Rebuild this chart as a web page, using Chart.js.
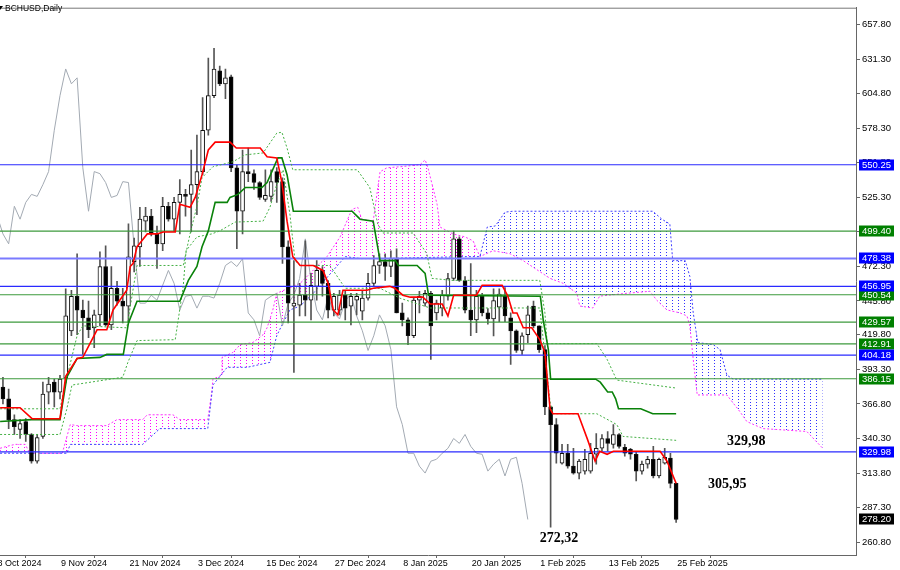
<!DOCTYPE html>
<html><head><meta charset="utf-8">
<script src="https://cdn.jsdelivr.net/npm/chart.js@4/dist/chart.umd.min.js"></script>
<style>html,body{margin:0;padding:0;background:#fff;}#wrap{width:900px;height:570px;}</style>
</head><body><div id="wrap"><canvas id="c" width="900" height="570"></canvas></div>
<script>
// ---------------- DATA ----------------
const symbolTitle = 'BCHUSD,Daily';
const xOrigin = '2024-10-28';
const firstBarDate = '2024-10-30';

const opens = [379.8,370.7,354.8,347.2,353.2,343.4,322.9,341.9,375.9,383.5,
375.9,386.5,422.9,449.4,438.8,432.8,425.2,435.1,472.2,427.5,
455.5,445.6,441.8,476.0,487.3,507.0,510.8,497.2,489.6,518.4,
508.5,521.4,527.5,527.5,535.0,545.0,576.7,603.2,622.2,612.3,
617.6,547.9,514.6,545.0,543.4,536.6,523.7,526.0,545.0,537.3,
487.3,441.8,442.6,450.2,446.4,457.0,469.2,459.3,438.8,438.8,
450.2,441.8,446.4,438.0,448.0,459.3,473.0,476.0,472.2,478.2,
436.6,431.3,419.1,446.4,444.1,451.7,436.6,440.3,449.4,463.0,
493.4,461.5,438.8,431.3,449.4,436.6,432.0,441.0,449.4,432.8,
422.9,407.8,419.9,441.8,426.7,408.5,364.6,351.0,321.4,329.0,
319.1,313.8,315.3,315.3,328.2,332.8,340.3,335.8,343.4,333.5,
332.0,328.2,315.3,320.6,324.4,311.6,321.4,325.2,305.95];
const highs = [387.3,378.2,358.5,354.8,355.5,344.1,343.4,383.5,387.3,385.8,
388.8,455.0,453.9,482.0,446.4,445.6,438.8,483.5,488.0,472.2,
460.8,455.5,505.0,494.0,517.6,517.6,516.0,503.2,525.2,521.4,
525.2,538.8,531.3,561.5,573.0,601.7,632.0,639.6,626.0,623.7,
619.1,550.0,561.5,563.0,546.4,537.3,546.4,546.4,548.0,540.3,
491.9,476.7,459.3,491.9,467.0,476.7,472.2,461.5,451.7,453.9,
453.9,451.7,451.7,453.9,467.0,480.5,482.0,482.0,484.3,485.8,
444.1,432.8,447.9,453.1,453.9,453.1,446.4,453.9,467.0,499.4,
494.9,464.5,474.5,453.9,451.7,440.0,455.0,455.0,456.0,436.6,
423.7,421.4,441.8,445.6,426.7,411.6,364.6,355.5,335.8,335.8,
332.8,324.4,332.0,336.6,344.1,343.4,345.6,350.9,344.1,335.8,
332.8,330.5,322.9,326.7,334.3,325.2,332.8,329.0,305.95];
const lows = [366.9,347.9,343.4,340.3,338.1,321.4,321.4,340.3,366.9,364.6,
370.7,383.0,419.1,420.0,404.8,417.6,410.0,426.7,426.7,423.7,
442.6,429.0,429.0,468.0,472.2,498.7,495.7,470.7,484.3,507.0,
499.4,497.2,510.8,498.7,512.0,542.6,573.0,601.7,610.8,601.0,
545.0,485.8,497.2,537.3,531.3,523.7,522.2,522.2,521.4,474.5,
429.0,391.0,434.3,434.3,431.3,446.4,449.4,432.8,434.3,435.0,
431.3,427.5,435.0,431.3,446.4,457.0,467.0,461.5,464.5,436.6,
426.7,412.3,417.6,436.6,441.8,401.0,431.3,434.3,446.4,461.5,
460.8,436.6,419.1,421.4,434.3,428.0,419.0,430.0,430.0,397.2,
406.3,404.8,413.8,425.2,406.3,358.5,272.3,321.4,320.6,317.6,
313.0,309.3,313.0,313.8,320.6,330.5,330.5,332.8,332.8,326.7,
324.4,307.8,313.0,317.6,310.0,310.0,320.6,302.5,275.9];
const closes = [370.7,354.8,349.4,351.7,343.4,322.9,341.1,374.4,382.0,375.9,
385.8,434.3,449.4,438.8,432.8,423.7,435.1,472.2,427.5,455.5,
445.6,441.8,479.7,488.0,508.5,510.8,497.2,489.6,518.4,508.5,
521.4,527.5,526.0,535.0,545.0,576.7,603.2,623.7,612.3,616.9,
547.9,514.6,545.0,543.4,536.6,525.2,526.7,537.3,536.6,487.3,
444.1,444.1,450.2,446.4,457.8,469.2,459.3,438.8,449.4,450.2,
440.3,449.4,449.4,448.0,459.3,473.0,476.0,472.2,478.2,436.6,
431.3,419.1,446.4,449.4,451.7,426.7,444.1,450.2,463.0,493.4,
461.5,438.8,431.3,449.4,436.6,432.0,446.0,451.0,434.3,422.9,
407.8,419.1,435.1,426.7,408.5,364.6,351.0,329.0,329.0,319.1,
313.8,322.9,324.4,329.0,332.8,340.3,336.6,343.4,334.3,329.0,
328.2,315.3,320.6,324.4,311.6,324.4,325.9,305.95,278.2];

// Ichimoku lines, [day index since xOrigin, price]
const tenkan = [[1.5,363.9],[5.0,363.9],[7.1,355.5],[12.0,355.5],[13.0,388.0],[15.0,401.7],[16.0,402.5],[18.5,423.7],[20.2,423.7],[21.3,438.9],[23.7,454.0],[24.3,472.2],[24.8,474.5],[25.5,487.3],[27.3,497.2],[29.0,497.2],[30.1,498.7],[32.2,498.7],[33.0,519.9],[34.8,517.6],[35.7,525.2],[36.9,542.6],[38.0,561.6],[39.2,567.6],[41.8,567.6],[42.9,563.1],[47.1,563.1],[48.3,556.3],[50.0,555.5],[50.9,536.6],[51.8,507.0],[52.8,479.8],[54.1,473.0],[56.4,473.0],[58.1,469.2],[59.0,459.3],[59.9,438.9],[60.7,435.1],[61.6,454.0],[65.8,454.0],[66.9,455.5],[69.8,457.0],[70.7,455.5],[72.1,450.2],[73.4,448.7],[75.6,448.7],[76.9,443.4],[79.0,443.4],[80.0,434.3],[81.0,450.2],[85.0,450.2],[86.0,457.8],[89.5,457.8],[90.5,449.5],[91.4,436.6],[92.1,436.6],[93.2,425.2],[94.7,425.2],[96.1,416.1],[97.0,406.3],[97.9,363.1],[98.4,359.3],[102.8,359.3],[104.4,340.4],[105.8,322.9],[106.6,330.5],[107.9,328.2],[109.0,330.5],[117.2,330.5],[118.4,322.9],[120.0,305.9]];
const kijun = [[1.5,353.3],[7.0,354.8],[12.0,354.8],[13.2,387.3],[15.0,401.7],[19.0,402.5],[20.2,404.8],[23.1,404.8],[24.0,429.0],[25.5,445.6],[33.0,445.6],[34.5,461.6],[36.0,472.2],[36.9,487.3],[38.0,499.5],[39.2,521.4],[41.3,521.4],[41.8,525.2],[43.2,527.5],[44.5,532.8],[47.4,532.8],[48.3,536.6],[50.2,555.5],[50.9,555.5],[51.8,542.6],[52.9,514.6],[63.2,514.6],[64.6,508.5],[66.9,507.0],[68.1,476.7],[70.8,476.7],[71.3,473.0],[74.6,473.0],[76.0,466.9],[76.6,450.2],[96.2,449.4],[96.7,431.3],[97.6,408.5],[98.0,385.8],[105.9,385.8],[106.7,383.5],[108.0,376.0],[108.8,376.0],[109.4,370.7],[109.9,363.1],[113.8,363.1],[115.9,359.3],[120.0,359.3]];
const dottedUpper = [[1.5,363.1],[12.0,363.1],[13.0,383.6],[15.0,419.2],[16.0,426.7],[23.7,425.2],[25.5,473.0],[33.6,473.0],[34.8,497.2],[36.0,518.4],[36.9,540.4],[38.8,548.7],[42.3,552.5],[44.4,557.8],[47.6,559.3],[50.0,574.5],[50.9,575.2],[51.8,563.1],[52.8,546.4],[64.1,546.4],[66.3,532.8],[67.7,504.8],[68.6,497.9],[73.9,497.9],[76.3,482.0],[77.2,463.1],[80.7,461.6],[96.1,461.6],[97.0,436.6],[97.4,413.1],[106.1,413.1],[107.9,401.0],[109.6,385.1],[120.0,379.0]];
const dottedLower = [[1.5,343.4],[12.0,343.4],[13.2,363.1],[14.1,381.3],[23.0,387.3],[23.9,398.7],[25.5,415.4],[32.2,416.1],[33.6,457.0],[34.1,484.3],[36.0,494.9],[38.6,497.2],[40.0,499.5],[42.7,506.3],[47.6,507.0],[48.8,517.6],[50.0,535.1],[51.1,546.4],[52.3,512.3],[53.2,476.7],[54.1,473.0],[59.3,473.0],[62.0,455.5],[68.1,455.5],[71.6,447.9],[76.9,440.4],[96.1,440.4],[97.9,368.4],[98.4,359.3],[106.1,359.3],[109.6,351.0],[110.7,341.9],[120.0,338.9]];
const spanPink = [[1.5,332.8],[2.7,334.3],[4.1,335.8],[5.9,335.8],[6.7,329.0],[12.4,329.0],[13.8,351.0],[15.0,350.2],[20.2,350.2],[22.0,354.8],[26.5,354.8],[27.3,358.5],[31.8,358.5],[33.0,354.8],[37.9,354.8],[38.6,376.0],[38.8,385.8],[40.4,388.9],[40.4,402.5],[42.3,406.3],[43.6,412.3],[45.8,413.9],[47.6,419.9],[48.3,425.2],[49.3,438.9],[50.0,451.7],[54.1,459.3],[56.7,470.7],[58.8,479.8],[61.1,494.9],[62.8,512.3],[63.2,516.1],[64.2,517.6],[64.9,508.5],[66.9,507.0],[68.1,544.9],[69.3,547.9],[71.6,548.7],[75.1,550.2],[76.0,554.0],[76.5,547.9],[78.1,519.9],[78.6,502.5],[80.9,497.2],[83.0,494.9],[84.4,491.9],[85.6,479.8],[87.9,484.3],[90.9,482.0],[93.2,476.7],[97.9,463.1],[100.2,459.3],[102.6,451.7],[103.1,441.9],[105.4,440.4],[106.6,449.5],[111.4,451.7],[115.4,453.2],[116.6,446.4],[118.4,438.9],[120.7,436.6],[121.9,434.3],[122.4,426.7],[123.0,401.0],[123.7,373.7],[128.9,373.7],[131.2,360.8],[132.4,353.3],[135.2,347.9],[142.9,345.7],[145.7,332.8]];
const spanBlue = [[1.5,329.0],[13.2,329.0],[13.8,335.8],[26.5,335.8],[29.5,347.9],[37.9,347.9],[38.8,381.3],[41.3,394.9],[44.8,394.9],[48.8,398.7],[50.0,419.2],[51.1,429.0],[52.3,438.9],[54.1,441.9],[56.4,451.7],[62.0,479.8],[64.6,478.3],[68.1,478.3],[83.3,479.8],[85.6,479.8],[86.9,502.5],[88.3,503.3],[90.0,513.9],[91.4,514.6],[115.9,514.6],[117.5,508.5],[118.9,504.8],[119.4,476.7],[121.6,476.7],[122.4,464.6],[123.0,436.6],[123.8,413.9],[126.5,412.3],[127.7,408.5],[128.9,388.9],[130.0,385.8],[145.7,385.8]];
const chikouShift = 26;

const blueLevels = [550.25, 478.38, 456.95, 404.18, 329.98];
const greenLevels = [499.40, 450.54, 429.57, 412.91, 386.15];

const yTickValues = [657.8,631.3,604.8,578.3,551.8,525.3,498.8,472.3,445.8,419.8,393.3,366.8,340.3,313.8,287.3,260.8];
const yTickLabels = ['657.80','631.30','604.80','578.30','551.80','525.30','498.80','472.30','445.80','419.80','393.30','366.80','340.30','313.80','287.30','260.80'];
const xTickDates = ['2024-10-28','2024-11-09','2024-11-21','2024-12-03','2024-12-15','2024-12-27','2025-01-08','2025-01-20','2025-02-01','2025-02-13','2025-02-25'];
const xTickLabels = ['28 Oct 2024','9 Nov 2024','21 Nov 2024','3 Dec 2024','15 Dec 2024','27 Dec 2024','8 Jan 2025','20 Jan 2025','1 Feb 2025','13 Feb 2025','25 Feb 2025'];

const annotations = [
  {text:'329,98', x:128.9, y:335.1},
  {text:'305,95', x:125.6, y:302.5},
  {text:'272,32', x:96.1, y:260.8}
];

// axis ranges
const X_MIN = 1.483, X_MAX = 151.53, Y_MIN = 250.97, Y_MAX = 670.68;

// ---------------- BUILD ----------------
function dayIndex(d){ return Math.round((Date.parse(d) - Date.parse(xOrigin)) / 864e5); }
const dates = [];
for (let i = 0; i < opens.length; i++) {
  const base = new Date(firstBarDate + 'T00:00:00Z');
  base.setUTCDate(base.getUTCDate() + i);
  dates.push(base.toISOString().slice(0,10));
}
const barX = dates.map(dayIndex);
const pts = arr => arr.map(p => ({x:p[0], y:p[1]}));

function makePattern(color){
  const c = document.createElement('canvas'); c.width = 6; c.height = 3;
  const g = c.getContext('2d'); g.fillStyle = color; g.fillRect(0,0,1,1);
  return g.createPattern(c, 'repeat');
}
const pinkPat = makePattern('#ff00ff');
const bluePat = makePattern('#3030ff');

const lineBase = {type:'line', pointRadius:0, tension:0, fill:false, spanGaps:true};
const datasets = [];
datasets.push(Object.assign({}, lineBase, {data:pts(spanPink), borderColor:'#ff33ff', borderWidth:1, borderDash:[2,2], fill:{target:'+1', above:pinkPat, below:bluePat}, order:20}));
datasets.push(Object.assign({}, lineBase, {data:pts(spanBlue), borderColor:'#4040ff', borderWidth:1, borderDash:[2,2], order:19}));
datasets.push(Object.assign({}, lineBase, {data:closes.map((c,i)=>({x:barX[i]-chikouShift, y:c})), borderColor:'#a3aab3', borderWidth:1, order:14}));
datasets.push({type:'bar', data:barX.map((x,i)=>({x, y:[lows[i], highs[i]]})), backgroundColor:'#555', borderWidth:0, barThickness:1, grouped:false, order:12});
datasets.push({type:'bar', data:barX.map((x,i)=>({x, y:[opens[i], closes[i]]})), backgroundColor:closes.map((c,i)=>c>=opens[i]?'#ffffff':'#000000'), borderColor:'#111', borderWidth:1, borderSkipped:false, barThickness:4, grouped:false, order:11});
blueLevels.forEach(v => datasets.push(Object.assign({}, lineBase, {data:[{x:X_MIN,y:v},{x:X_MAX,y:v}], borderColor: v===478.38 ? '#7a7aff' : '#2a2aff', borderWidth: v===478.38 ? 2 : 1.2, order:9})));
greenLevels.forEach(v => datasets.push(Object.assign({}, lineBase, {data:[{x:X_MIN,y:v},{x:X_MAX,y:v}], borderColor:'#3c9a3c', borderWidth:1.2, order:9})));
datasets.push(Object.assign({}, lineBase, {data:pts(dottedLower), borderColor:'#44b044', borderWidth:1, borderDash:[2,2], order:5}));
datasets.push(Object.assign({}, lineBase, {data:pts(dottedUpper), borderColor:'#44b044', borderWidth:1, borderDash:[2,2], order:5}));
datasets.push(Object.assign({}, lineBase, {data:pts(kijun), borderColor:'#0a820a', borderWidth:1.6, order:3}));
datasets.push(Object.assign({}, lineBase, {data:pts(tenkan), borderColor:'#ff0000', borderWidth:1.6, order:2}));

const FONT = '"Liberation Sans", Arial, sans-serif';
const overlay = {
  id:'overlay',
  afterDraw(chart){
    const {ctx, chartArea:a, scales:{x, y}} = chart;
    ctx.save();
    ctx.strokeStyle = '#777'; ctx.lineWidth = 1;
    ctx.beginPath(); ctx.moveTo(a.left, a.top + 0.5); ctx.lineTo(a.right, a.top + 0.5); ctx.stroke();
    // title + icon
    ctx.fillStyle = '#000';
    ctx.beginPath(); ctx.moveTo(-3, 6); ctx.lineTo(3, 6); ctx.lineTo(0, 10); ctx.closePath(); ctx.fill();
    ctx.font = '8.5px ' + FONT; ctx.textAlign = 'left'; ctx.textBaseline = 'middle';
    ctx.fillText(symbolTitle, 5, 9);
    // annotations
    ctx.font = 'bold 14px "Liberation Serif", "Times New Roman", serif'; ctx.textBaseline = 'alphabetic';
    annotations.forEach(t => ctx.fillText(t.text, x.getPixelForValue(t.x), y.getPixelForValue(t.y)));
    // x labels
    ctx.save();
    ctx.beginPath(); ctx.rect(0, a.bottom, a.right, 20); ctx.clip();
    ctx.font = '9px ' + FONT; ctx.textBaseline = 'middle'; ctx.fillStyle = '#000';
    xTickDates.forEach((d,i) => ctx.fillText(xTickLabels[i], x.getPixelForValue(dayIndex(d)) + 1, a.bottom + 8.5));
    ctx.restore();
    // level boxes (green first, blue on top)
    const box = (v, bg, label) => {
      const py = y.getPixelForValue(v);
      ctx.fillStyle = bg; ctx.fillRect(a.right + 3, Math.round(py) - 5.5, 35, 11);
      ctx.fillStyle = '#fff'; ctx.font = '9.5px ' + FONT; ctx.textBaseline = 'middle'; ctx.textAlign = 'left';
      ctx.fillText(label, a.right + 6, Math.round(py) + 0.5);
    };
    greenLevels.forEach(v => box(v, '#008000', v.toFixed(2)));
    blueLevels.forEach(v => box(v, '#0000ff', v.toFixed(2)));
    box(closes[closes.length-1], '#000000', closes[closes.length-1].toFixed(2));
    ctx.restore();
  }
};

new Chart(document.getElementById('c'), {
  type:'line',
  data:{datasets},
  options:{
    responsive:false, animation:false, events:[],
    layout:{padding:{top:1, left:0, right:0, bottom:0}},
    plugins:{legend:{display:false}, tooltip:{enabled:false}, title:{display:false}},
    scales:{
      x:{type:'linear', min:X_MIN, max:X_MAX, offset:false,
         afterBuildTicks:s => { s.ticks = xTickDates.slice(1).map(d => ({value:dayIndex(d)})); },
         afterFit:s => { s.height = 15; },
         ticks:{display:false, autoSkip:false},
         grid:{drawOnChartArea:false, drawTicks:true, tickLength:3, color:'#666'},
         border:{display:true, color:'#666'}},
      y:{type:'linear', position:'right', min:Y_MIN, max:Y_MAX,
         afterBuildTicks:s => { s.ticks = yTickValues.map(v => ({value:v})); },
         afterFit:s => { s.width = 44; },
         ticks:{autoSkip:false, padding:2, color:'#000', font:{family:FONT, size:9.5}, callback:(v,i) => yTickLabels[i]},
         grid:{drawOnChartArea:false, drawTicks:true, tickLength:4, color:'#666'},
         border:{display:true, color:'#666'}}
    }
  },
  plugins:[overlay]
});
</script></body></html>
